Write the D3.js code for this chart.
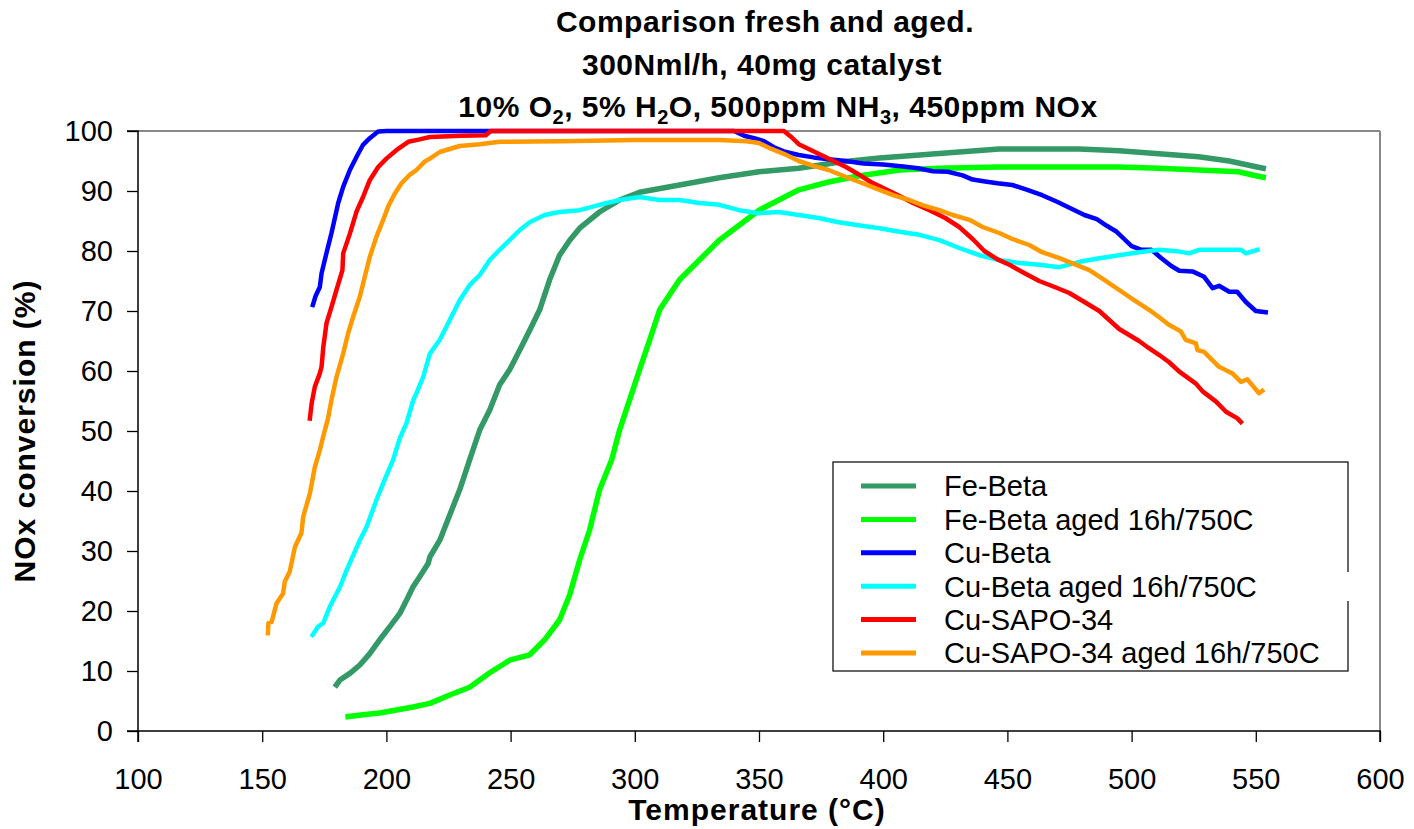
<!DOCTYPE html>
<html><head><meta charset="utf-8">
<script src="https://cdn.jsdelivr.net/npm/d3@7"></script>
<style>html,body{margin:0;padding:0;background:#fff;}svg{display:block;font-family:"Liberation Sans",Arial,sans-serif;}</style>
</head><body><svg id="c" width="1414" height="829"></svg>
<script>
const seriesNames = ["Fe-Beta","Fe-Beta aged 16h/750C","Cu-Beta","Cu-Beta aged 16h/750C","Cu-SAPO-34","Cu-SAPO-34 aged 16h/750C"];
const seriesColors = ["#339966","#00FF00","#0000FF","#00FFFF","#FF0000","#FF9900"];
const xTicks = [100,150,200,250,300,350,400,450,500,550,600];
const yTicks = [0,10,20,30,40,50,60,70,80,90,100];

const feBeta = [[179.9,7.7],[181.3,8.5],[185.3,9.6],[189.3,11],[193.3,12.9],[197.3,15.2],[201.4,17.4],[205.4,19.6],[208.1,21.8],[210.7,24],[213.4,25.7],[216.8,27.9],[217.5,29],[221.5,31.8],[225.5,36],[229.5,40.2],[233.5,45.2],[237.6,50.2],[241.6,53.5],[245.6,57.7],[249.6,60.2],[253.7,63.5],[257.7,66.8],[261.7,70.2],[265.7,75.2],[269.7,79.3],[273.8,81.8],[277.8,83.8],[285.8,86.5],[293.9,88.5],[301.9,89.8],[318,91],[334,92.2],[350,93.2],[366,93.8],[382,94.8],[398.5,95.5],[414.6,96],[430.6,96.5],[446.7,97],[462.8,97],[479,97],[495,96.7],[511,96.2],[527,95.7],[539.3,95],[550.5,94],[553,93.8]];
const feBetaAged = [[184.6,2.4],[190.6,2.7],[197.3,3],[204,3.5],[210.7,4],[217.5,4.6],[225.5,6],[233.5,7.3],[241.6,9.7],[249.6,11.8],[257.7,12.7],[263.7,15.2],[269.7,18.5],[273.8,22.7],[277.8,28.5],[281.8,33.5],[285.8,40.2],[290.7,45.2],[293.9,50.2],[297.9,55.2],[301.9,60.2],[306,65.2],[310,70.2],[318,75.2],[326,78.5],[334,81.8],[342,84.3],[350,86.8],[358,88.5],[366,90.2],[378,91.5],[390,92.5],[406.5,93.5],[422.6,93.8],[446.7,94],[471,94],[495,94],[511,93.8],[527,93.5],[543,93.2],[550.5,92.5],[553,92.3]];
const cuBeta = [[170.4,71],[171.5,72.5],[173.2,74],[173.9,76.3],[175.9,79.7],[177.9,83],[180.6,88],[182.6,90.7],[185.3,93.5],[188,95.7],[190.6,97.7],[193.3,98.8],[196.7,99.9],[200,100],[250,100],[300,100],[340,100],[344,99.2],[348,98.8],[352,98.3],[356,97.3],[360,96.6],[366,96],[372,95.6],[378,95.3],[385,95],[392,94.6],[400,94.4],[408,94.1],[414,93.8],[420,93.3],[426,93.2],[432,92.6],[436,91.9],[441,91.6],[446,91.3],[452,91],[458,90.2],[464,89.3],[470,88.2],[476,87],[481,86],[486,85.3],[490,84.2],[494,83.2],[497,82],[500,80.8],[504,80.2],[508,80.2],[512,78.8],[516,77.5],[519.2,76.7],[524.5,76.6],[529.2,75.7],[532.6,73.8],[535.2,74.2],[539.3,73.2],[542.5,73.2],[546,71.5],[550,70],[554,69.8]];
const cuBetaAged = [[170.3,16],[172.5,17.4],[174.6,18],[177.2,20.7],[181.3,24],[184,26.8],[189.3,31.8],[192,34],[196,38.5],[198.7,41.3],[202.7,45.2],[205.4,48.8],[208.1,51.3],[210.7,55],[212.1,56.3],[214.8,59],[217.5,62.9],[221.5,65.2],[225.5,68.5],[229.5,71.8],[233.5,74.3],[237.6,76],[241.6,78.5],[245.6,80.2],[249.6,81.8],[253.7,83.5],[257.7,84.8],[263.7,86],[269.7,86.5],[277.8,86.8],[285.8,87.7],[293.9,88.5],[301.9,89],[310,88.5],[318,88.5],[326,88],[334,87.7],[342,86.8],[350,86.3],[358,86.5],[366,86],[374,85.5],[382,84.8],[390,84.3],[398.5,83.8],[406.5,83.2],[414.6,82.7],[422.6,81.8],[430.6,80.5],[438.7,79.3],[446.7,78.5],[454.8,78],[462.8,77.7],[470.9,77.3],[479,78.2],[487,78.8],[495,79.3],[503,79.8],[511,80.2],[519.2,79.9],[523.2,79.6],[527.2,80.2],[544,80.2],[546,79.6],[550.7,80.2]];
const cuSapo = [[169.2,52.1],[169.9,54.6],[171.2,57.4],[173.2,59.6],[173.9,60.7],[174.6,64],[175.9,68],[177.9,70.7],[179.9,73.5],[182.3,76.8],[182.6,79.6],[185.3,82.9],[188,86.6],[190.6,89],[193.3,91.8],[196.7,94],[200,95.4],[204,96.8],[208.8,98.2],[213.4,98.6],[217.5,99],[230,99.2],[240,99.3],[242,100],[300,100],[360,100],[363,99],[366,97.8],[370,97],[375,96],[380,95],[385,94],[390,92.8],[395,91.5],[400,90.5],[406,89.3],[412,88],[418.6,86.8],[425,85.5],[430.6,84],[436,82],[440.7,80],[446,78.6],[450.8,77.7],[456,76.5],[462.8,75],[469,74],[474.9,73],[481,71.5],[487,70],[491,68.5],[495,67],[499,66],[503,65],[507,63.8],[511,62.7],[515,61.5],[519.2,59.9],[525.9,57.9],[528.6,56.6],[534,54.9],[538,53.2],[542.6,52.1],[544,51.5]];
const cuSapoAged = [[152.3,16.3],[152.5,18],[153.8,18.2],[155.8,21.3],[158.4,22.9],[159.1,24.9],[161.1,26.6],[163.2,30.7],[165.8,33],[166.5,35.7],[169.2,39.6],[171.2,44],[173.2,46.8],[174.5,49],[176.5,52.1],[177.9,55.2],[179.9,59],[182.6,62.9],[184.6,66.3],[186.6,69],[189.3,72.4],[191.3,75.7],[193.3,79],[196,82.4],[198.7,85.2],[200.7,87.4],[203.4,89.6],[206.1,91.3],[209.4,92.7],[212.1,93.5],[215.4,94.9],[217.5,95.4],[221.5,96.5],[229.5,97.5],[237.6,97.8],[245.6,98.2],[270,98.3],[300,98.5],[334,98.5],[345,98.3],[350,98],[354,97.2],[360,96.2],[366,95],[372,94.2],[378,93.5],[384,92.5],[390.4,91.5],[398.5,90.2],[404,89.3],[410.5,88.5],[416,87.6],[422.6,86.8],[428,86],[434.7,85.2],[440,84],[446.7,83],[452,82],[458.8,81],[464,79.8],[470.9,78.8],[477,77.8],[483,76.8],[489,75.2],[495,73.5],[501,71.8],[507,70.2],[511,69],[515,67.7],[519.8,66.6],[521.8,65.2],[525.9,64.6],[526.5,63.5],[529.2,63.2],[535.2,60.7],[540.6,59.6],[544,58.2],[546.6,58.6],[551.3,56.3],[552.6,56.7]];

const allSeries = [feBeta, feBetaAged, cuBeta, cuBetaAged, cuSapo, cuSapoAged];

const svg = d3.select("#c");
const L = 138, R = 1380, T = 131, B = 731;
const x = d3.scaleLinear().domain([100,600]).range([L,R]);
const y = d3.scaleLinear().domain([0,100]).range([B,T]);

// title
const title = svg.append("text").attr("text-anchor","middle").attr("font-weight","bold")
  .attr("font-size",30).attr("letter-spacing",0.5).attr("fill","#000");
title.append("tspan").attr("x",765).attr("y",32).text("Comparison fresh and aged.");
title.append("tspan").attr("x",762).attr("y",75).text("300Nml/h, 40mg catalyst");
const t3 = svg.append("text").attr("text-anchor","middle").attr("font-weight","bold")
  .attr("font-size",30).attr("letter-spacing",0.5).attr("x",778).attr("y",117);
const parts = [["10% O",0],["2",1],[", 5% H",0],["2",1],["O, 500ppm NH",0],["3",1],[", 450ppm NOx",0]];
parts.forEach((p,i)=>{
  const ts = t3.append("tspan").text(p[0]);
  if(p[1]) ts.attr("font-size",20).attr("dy",7);
  else if(i>0 && parts[i-1][1]) ts.attr("dy",-7);
});

// plot frame (top/right gray)
svg.append("line").attr("x1",L).attr("x2",R).attr("y1",T).attr("y2",T).attr("stroke","#888").attr("stroke-width",2);
svg.append("line").attr("x1",R).attr("x2",R).attr("y1",T).attr("y2",B).attr("stroke","#888").attr("stroke-width",2);

// axes
const xAxis = svg.append("g").attr("transform",`translate(0,${B})`)
  .call(d3.axisBottom(x).tickValues(xTicks).tickSize(11).tickPadding(26).tickFormat(d3.format("d")));
const yAxis = svg.append("g").attr("transform",`translate(${L},0)`)
  .call(d3.axisLeft(y).tickValues(yTicks).tickSize(11).tickPadding(14).tickFormat(d3.format("d")));
[xAxis,yAxis].forEach(a=>{
  a.select(".domain").attr("stroke","#000").attr("stroke-width",1.5);
  a.selectAll(".tick line").attr("stroke","#000").attr("stroke-width",1.3);
  a.selectAll(".tick text").attr("font-size",29).attr("fill","#000").attr("font-family","Liberation Sans, Arial, sans-serif");
});
yAxis.select(".domain").attr("d",`M-11,${T}H0V${B}H-11`);
xAxis.select(".domain").attr("d",`M${L},11V0H${R}V11`);

// axis labels
svg.append("text").attr("x",757).attr("y",820).attr("text-anchor","middle").attr("font-weight","bold")
  .attr("font-size",30).attr("letter-spacing",1).text("Temperature (°C)");
svg.append("text").attr("transform","translate(35,431) rotate(-90)").attr("text-anchor","middle").attr("font-weight","bold")
  .attr("font-size",30).attr("letter-spacing",1).text("NOx conversion (%)");

// series
const line = d3.line().x(d=>x(d[0])).y(d=>y(d[1]));
allSeries.forEach((s,i)=>{
  svg.append("path").datum(s).attr("d",line).attr("fill","none")
    .attr("stroke",seriesColors[i]).attr("stroke-width",(i<2)?5.5:4.5)
    .attr("stroke-linejoin","round").attr("stroke-linecap","square");
});

// legend
const lg = svg.append("g");
lg.append("rect").attr("x",833).attr("y",462).attr("width",515).attr("height",209)
  .attr("fill","#fff").attr("stroke","#000").attr("stroke-width",1.2);
// small break in the right border, as in the original
lg.append("rect").attr("x",1346).attr("y",572).attr("width",4).attr("height",29).attr("fill","#fff");
seriesNames.forEach((n,i)=>{
  const yy = 486 + i*33.4;
  lg.append("line").attr("x1",861).attr("x2",916).attr("y1",yy).attr("y2",yy)
    .attr("stroke",seriesColors[i]).attr("stroke-width",5);
  lg.append("text").attr("x",944).attr("y",yy).attr("dy","0.36em").attr("font-size",29).attr("fill","#000").text(n);
});
</script></body></html>
